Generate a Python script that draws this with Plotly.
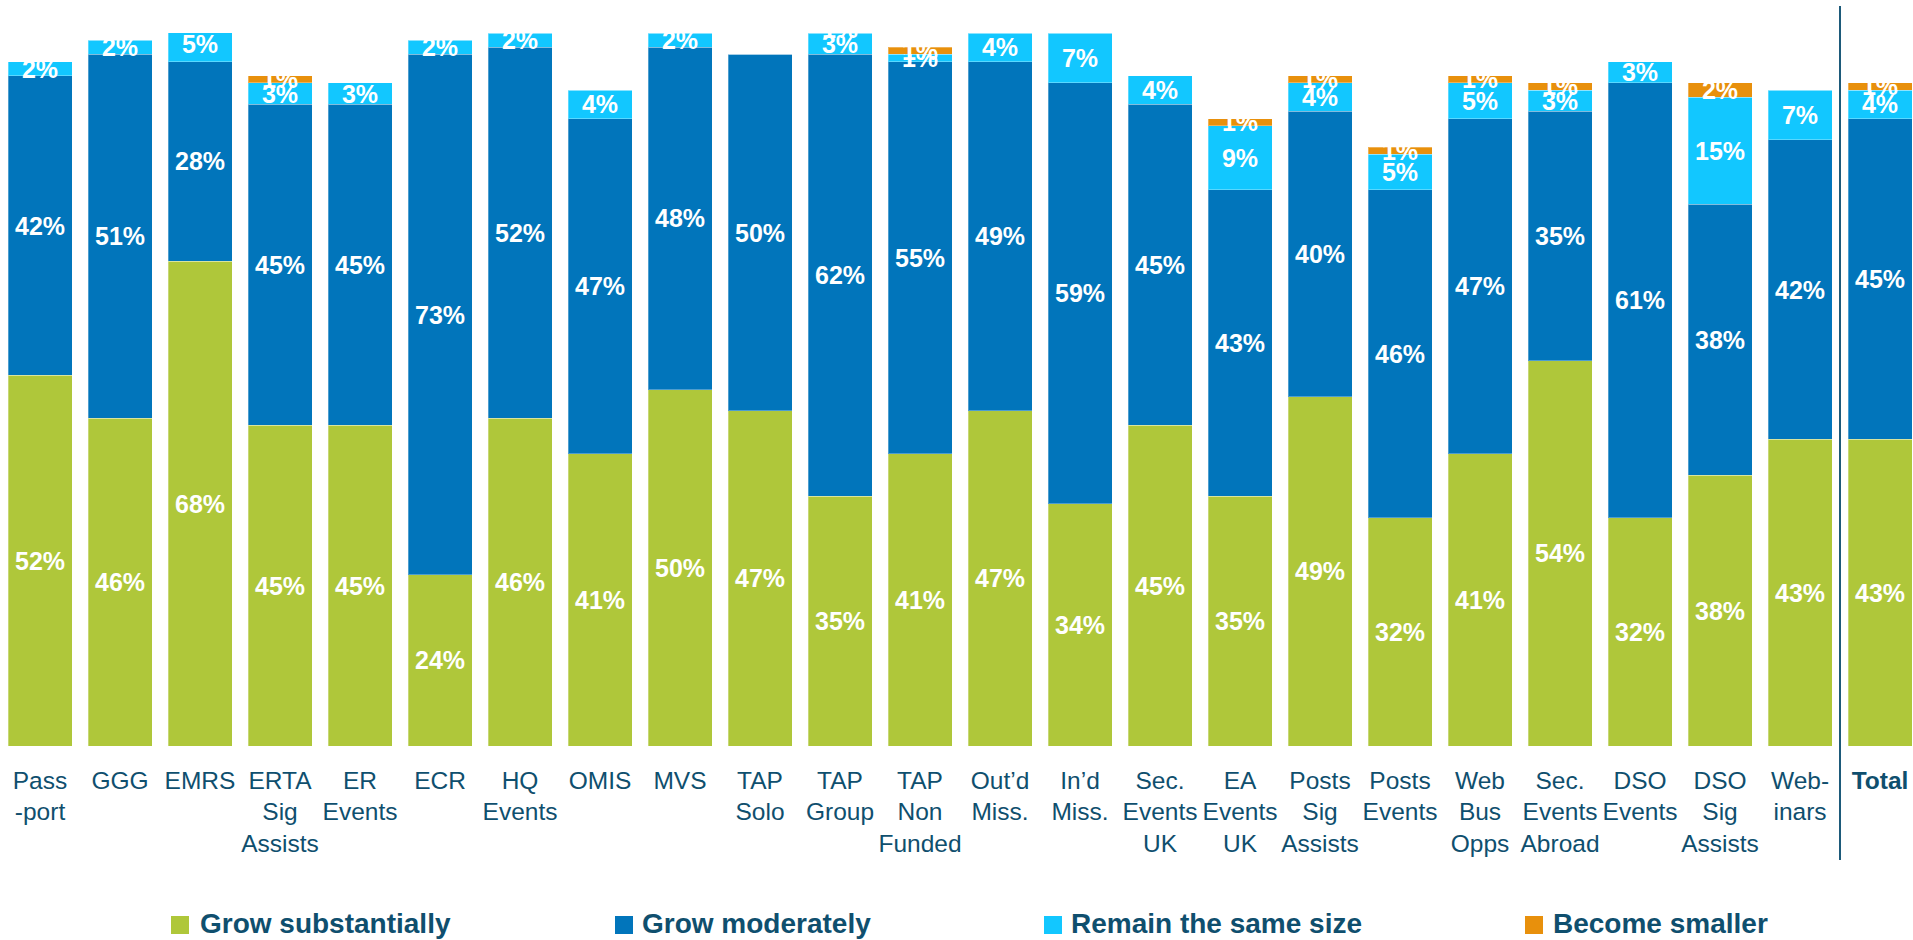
import plotly.graph_objects as go

# Category labels (line breaks as printed under each bar)
categories = [
    "Pass<br>-port", "GGG", "EMRS", "ERTA<br>Sig<br>Assists", "ER<br>Events", "ECR",
    "HQ<br>Events", "OMIS", "MVS", "TAP<br>Solo", "TAP<br>Group", "TAP<br>Non<br>Funded",
    "Out\u2019d<br>Miss.", "In\u2019d<br>Miss.", "Sec.<br>Events<br>UK", "EA<br>Events<br>UK",
    "Posts<br>Sig<br>Assists", "Posts<br>Events", "Web<br>Bus<br>Opps", "Sec.<br>Events<br>Abroad",
    "DSO<br>Events", "DSO<br>Sig<br>Assists", "Web-<br>inars", "<b>Total</b>",
]

# Share of respondents (%) per answer
grow_substantially = [52, 46, 68, 45, 45, 24, 46, 41, 50, 47, 35, 41,
                      47, 34, 45, 35, 49, 32, 41, 54, 32, 38, 43, 43]
grow_moderately = [42, 51, 28, 45, 45, 73, 52, 47, 48, 50, 62, 55,
                   49, 59, 45, 43, 40, 46, 47, 35, 61, 38, 42, 45]
remain_same = [2, 2, 5, 3, 3, 2, 2, 4, 2, 0, 3, 1,
               4, 7, 4, 9, 4, 5, 5, 3, 3, 15, 7, 4]
become_smaller = [0, 0, 0, 1, 0, 0, 0, 0, 0, 0, 1, 1,
                  0, 0, 0, 1, 1, 1, 1, 1, 0, 2, 0, 1]

series = [
    ("Grow substantially", grow_substantially, "#AFC73A"),
    ("Grow moderately", grow_moderately, "#0175BB"),
    ("Remain the same size", remain_same, "#12C7FF"),
    ("Become smaller", become_smaller, "#E8900C"),
]

label_color = "#0F4F6E"
x_idx = list(range(len(categories)))

fig = go.Figure()
for name, vals, color in series:
    fig.add_trace(go.Bar(
        name=name,
        x=x_idx,
        y=vals,
        marker=dict(color=color, line=dict(width=1, color="rgba(255,255,255,0.3)")),
        text=[f"{v}%" if v else "" for v in vals],
        textposition="inside",
        insidetextanchor="middle",
        textangle=0,
        textfont=dict(family="Liberation Sans, Arial, sans-serif", size=25, color="white",
                      weight="bold"),
        showlegend=False,
    ))

# Plot area spans the full width; bottom of bars at 746px, 100% at 33px
W, H = 1913, 940
top, bottom = 33, 746
ph = bottom - top


def ypaper(py):
    return (bottom - py) / ph


shapes = [
    # divider separating the Total column
    dict(type="line", xref="x", yref="paper", x0=22.5, x1=22.5,
         y0=ypaper(860), y1=ypaper(6), line=dict(color="#1D5A7A", width=2)),
]
annotations = []
legend_pos = [(171, 198), (615, 640), (1044, 1069), (1525, 1551)]
for (name, _, color), (sq_x, tx) in zip(series, legend_pos):
    shapes.append(dict(type="rect", xref="paper", yref="paper",
                       x0=sq_x / W, x1=(sq_x + 18) / W,
                       y0=ypaper(934), y1=ypaper(916),
                       fillcolor=color, line=dict(width=0)))
    annotations.append(dict(text=f"<b>{name}</b>", xref="paper", yref="paper",
                            x=tx / W, y=ypaper(923), xanchor="left", yanchor="middle",
                            showarrow=False,
                            font=dict(family="Liberation Sans, Arial, sans-serif",
                                      size=28, color=label_color)))

fig.update_layout(
    width=W, height=H,
    margin=dict(l=0, r=0, t=top, b=H - bottom, pad=0),
    paper_bgcolor="white", plot_bgcolor="white",
    barmode="stack", bargap=0.2,
    uniformtext=dict(minsize=25, mode="show"),
    xaxis=dict(
        range=[-0.5, (W - 40) / 80],
        tickmode="array", tickvals=x_idx, ticktext=categories,
        tickfont=dict(family="Liberation Sans, Arial, sans-serif", size=24.5, color=label_color),
        showgrid=False, zeroline=False, showline=False, ticks="",
        ticklabelstandoff=17,
    ),
    yaxis=dict(range=[0, 100], visible=False, showgrid=False, zeroline=False),
    shapes=shapes,
    annotations=annotations,
)

fig.write_html("out.html")
